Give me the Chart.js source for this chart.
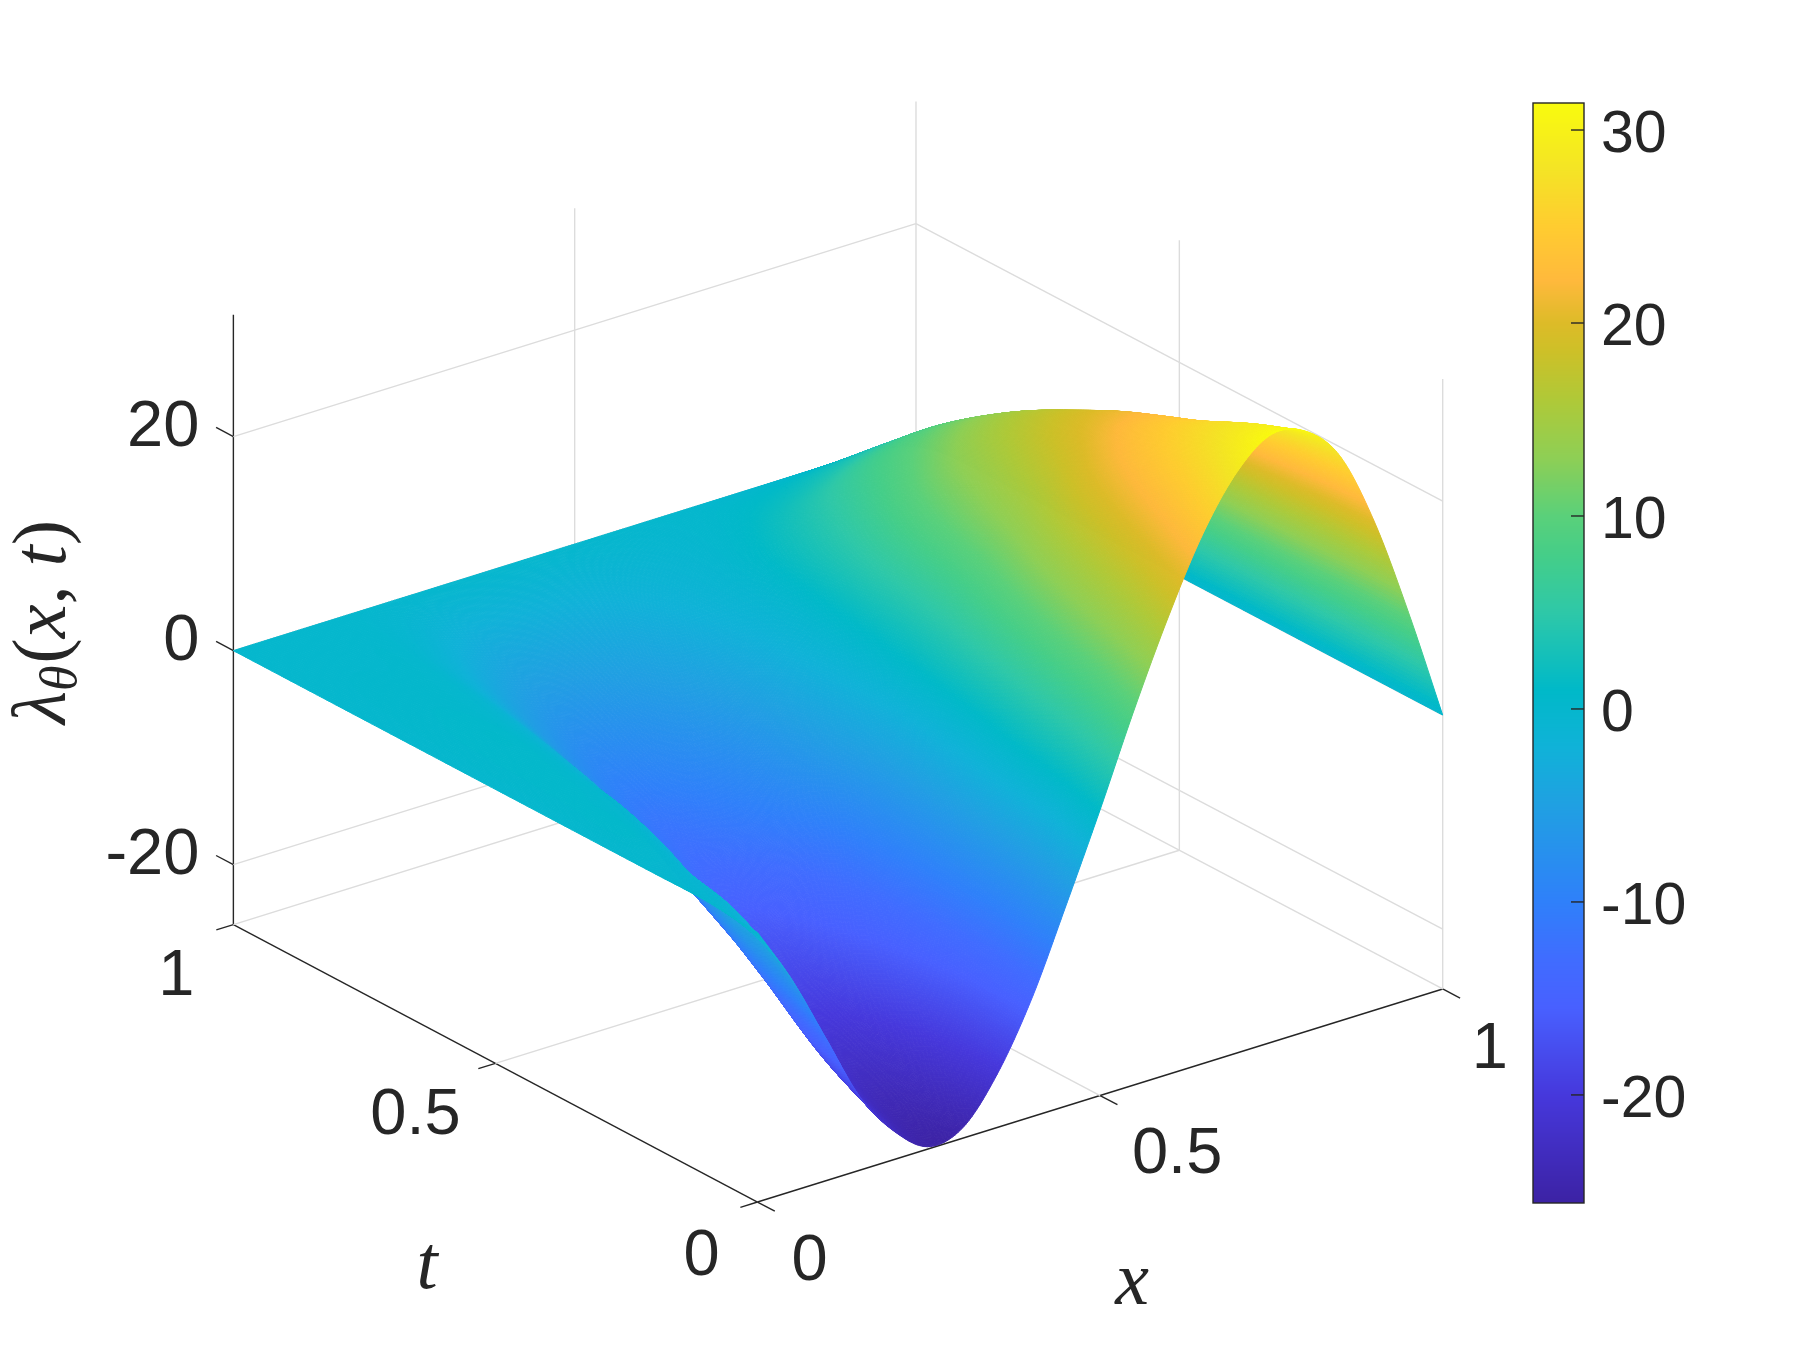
<!DOCTYPE html>
<html>
<head>
<meta charset="utf-8">
<title>lambda surface</title>
<script src="https://cdn.jsdelivr.net/npm/chart.js@4/dist/chart.umd.js"></script>
<style>
  body { margin: 0; background: #fff; }
  canvas { display: block; }
</style>
</head>
<body>
<canvas id="surface-chart" width="1799" height="1353"></canvas>
<script>
/* surface of lambda_theta(x, t) */
const xGrid = [0, 0.05, 0.1, 0.15, 0.2, 0.25, 0.3, 0.35, 0.4, 0.45, 0.5, 0.55, 0.6, 0.65, 0.7, 0.75, 0.8, 0.85, 0.9, 0.95, 1];
const tGrid = [0, 0.1, 0.2, 0.3, 0.4, 0.5, 0.6, 0.7, 0.8, 0.9, 1];

const zAtT00 = [-0.4, -5.8, -12.3, -18.8, -23, -25.4, -24.6, -20.6, -14.6, -6.9, 1.1, 9.5, 17.2, 23.9, 28.7, 31.2, 30.5, 27.2, 20.1, 10.6, 0];
const zAtT01 = [0, -2.3, -8.9, -15.8, -20.5, -23.5, -22.7, -19.6, -14.9, -8.8, -2, 5.7, 13.4, 20, 24.9, 28, 28.6, 25.8, 19.5, 10.5, 0];
const zAtT02 = [0, -0.9, -5.7, -11.8, -16.8, -20.8, -20.6, -18, -14.1, -9.2, -3.5, 3, 10.3, 16.7, 21.7, 25, 26.2, 24.1, 18.5, 10.1, 0];
const zAtT03 = [0, 0.3, -2.5, -8.2, -13.2, -17.6, -18.4, -16.4, -13.2, -9.2, -4.5, 0.5, 7.2, 13.4, 18.5, 21.9, 23.6, 22.7, 17.8, 9.8, 0];
const zAtT04 = [0, 0.4, -0.6, -5.2, -10.2, -14.3, -16.2, -14.6, -12, -8.8, -5, -1, 4.4, 10, 14.8, 18.5, 20.7, 20.9, 17.1, 9.6, 0];
const zAtT05 = [0, 0.4, 0, -2.8, -7.2, -11, -13, -11.8, -9.9, -7.5, -4.6, -1.6, 2.3, 7.5, 12.1, 15.6, 17.9, 18.5, 15.6, 8.9, 0];
const zAtT06 = [0, 0.4, 0.4, -1.5, -5, -8.8, -11.2, -10.2, -8.6, -6.7, -4.3, -1.8, 1.1, 5.6, 9.6, 12.8, 15, 15.8, 14, 8.1, 0];
const zAtT07 = [0, 0.3, 0.3, -0.6, -3.4, -6.6, -8.7, -8.2, -7, -5.5, -3.7, -1.8, 0.2, 3.6, 6.8, 9.4, 11.5, 12.5, 11.5, 6.9, 0];
const zAtT08 = [0, 0.2, 0.2, -0.1, -2, -4.3, -5.9, -5.9, -5.1, -4.1, -2.8, -1.4, -0.2, 1.9, 4.1, 6.2, 7.8, 8.7, 8.3, 5.2, 0];
const zAtT09 = [0, 0.1, 0.1, 0.1, -0.7, -2, -3, -3, -2.7, -2.3, -1.6, -1, -0.4, 0.4, 1.5, 2.4, 3.4, 4.2, 4.4, 3, 0];
const zAtT10 = [0, 0, 0, 0, 0, 0, 0, 0, 0, 0, 0, 0, 0, 0, 0, 0, 0, 0, 0, 0, 0];
const zRows = [zAtT00, zAtT01, zAtT02, zAtT03, zAtT04, zAtT05, zAtT06, zAtT07, zAtT08, zAtT09, zAtT10];

const xTicks = [0, 0.5, 1];
const xTickLabels = ['0', '0.5', '1'];
const tTicks = [0, 0.5, 1];
const tTickLabels = ['0', '0.5', '1'];
const zTicks = [-20, 0, 20];
const zTickLabels = ['-20', '0', '20'];
const colorbarTicks = [-20, -10, 0, 10, 20, 30];

const zMin = -25.6;
const zMax = 31.4;

// colormap
const cmapValues = [-25.6, -20, -15.5, -13, -10, -5, -2, 1, 5, 8, 10, 13, 16, 18.5, 20, 22.2, 25, 28, 31.4];
const cmapColors = ['#3c22a4', '#4638dc', '#4860ff', '#406cff', '#2f80fa', '#20a0e2', '#10b2d8', '#00b9c8', '#2ec8a8', '#45ce88', '#5ad07a', '#8ecf55', '#afc938', '#cdc028', '#ddbb28', '#ffb93c', '#ffcc30', '#f4e425', '#f9fb0e'];

// view of the box: how far x and t shift the two hidden scales
const hPerT = -0.7649;
const hPerXT = -0.0038; // the back corner sits a touch left of a true parallelogram
const vPerX = 19.91;
const vPerT = 25.93;
const toH = (x, t) => x + hPerT * t + hPerXT * x * t;
const toV = (x, t, z) => z + vPerX * x + vPerT * t;
const viewPoint = (x, t, z) => ({ x: toH(x, t), y: toV(x, t, z) });

const INK = '#262626';
const GRID = '#dcdcdc';
const TICK_FONT = '65px "Liberation Sans"';
const SUB = 22; // fine cells per data cell when shading

function hexToRgb(hex) {
    return [1, 3, 5].map(i => parseInt(hex.substr(i, 2), 16));
}
const cmapRgb = cmapColors.map(hexToRgb);

function colorFor(z) {
    if (z <= cmapValues[0]) return `rgb(${cmapRgb[0].join(',')})`;
    for (let i = 1; i < cmapValues.length; i++) {
        if (z <= cmapValues[i]) {
            const f = (z - cmapValues[i - 1]) / (cmapValues[i] - cmapValues[i - 1]);
            const c = cmapRgb[i - 1].map((v, k) => Math.round(v + (cmapRgb[i][k] - v) * f));
            return `rgb(${c.join(',')})`;
        }
    }
    return `rgb(${cmapRgb[cmapRgb.length - 1].join(',')})`;
}

function segment(a, b, color, width) {
    return {
        type: 'scatter', showLine: true, data: [a, b], borderColor: color, borderWidth: width,
        pointRadius: 0, clip: false, xAxisID: 'h', yAxisID: 'v'
    };
}

function boxDatasets() {
    const out = [];
    const grid = (a, b) => out.push(segment(a, b, GRID, 1.4));
    const dark = (a, b) => out.push(segment(a, b, INK, 1.4));

    // floor
    grid(viewPoint(0, 0.5, zMin), viewPoint(1, 0.5, zMin));
    grid(viewPoint(0.5, 0, zMin), viewPoint(0.5, 1, zMin));
    grid(viewPoint(0, 1, zMin), viewPoint(1, 1, zMin));
    grid(viewPoint(1, 0, zMin), viewPoint(1, 1, zMin));
    // back walls
    zTicks.forEach(z => {
        grid(viewPoint(0, 1, z), viewPoint(1, 1, z));
        grid(viewPoint(1, 1, z), viewPoint(1, 0, z));
    });
    grid(viewPoint(0.5, 1, zMin), viewPoint(0.5, 1, zMax));
    grid(viewPoint(1, 1, zMin), viewPoint(1, 1, zMax));
    grid(viewPoint(1, 0.5, zMin), viewPoint(1, 0.5, zMax));
    grid(viewPoint(1, 0, zMin), viewPoint(1, 0, zMax));
    // axes and their ticks
    dark(viewPoint(0, 1, zMin), viewPoint(0, 1, zMax));
    dark(viewPoint(0, 0, zMin), viewPoint(0, 1, zMin));
    dark(viewPoint(0, 0, zMin), viewPoint(1, 0, zMin));
    zTicks.forEach(z => dark(viewPoint(0, 1, z), viewPoint(0, 1.033, z)));
    tTicks.forEach(t => dark(viewPoint(0, t, zMin), viewPoint(-0.025, t, zMin)));
    xTicks.forEach(x => dark(viewPoint(x, 0, zMin), viewPoint(x, -0.033, zMin)));
    return out;
}

// Catmull-Rom refinement of one line of values, only for smooth shading between data cells
function refine(line, n) {
    const out = [];
    const last = line.length - 1;
    for (let i = 0; i < last; i++) {
        const p0 = i > 0 ? line[i - 1] : 2 * line[0] - line[1];
        const p1 = line[i];
        const p2 = line[i + 1];
        const p3 = i + 2 <= last ? line[i + 2] : 2 * line[last] - line[last - 1];
        for (let k = 0; k < n; k++) {
            const s = k / n;
            out.push(0.5 * (2 * p1 + (p2 - p0) * s + (2 * p0 - 5 * p1 + 4 * p2 - p3) * s * s + (3 * p1 - p0 - 3 * p2 + p3) * s * s * s));
        }
    }
    out.push(line[last]);
    return out;
}

function refineGrid(rows, n) {
    const along = rows.map(r => refine(r, n));
    const cols = along[0].map((_, i) => refine(along.map(r => r[i]), n));
    return cols; // cols[i][j]
}

const surfacePlugin = {
    id: 'surface',
    afterDatasetsDraw(chart) {
        const ctx = chart.ctx;
        const meta = chart.getDatasetMeta(0).data;
        const nx = xGrid.length;
        const pxRows = zRows.map((r, j) => r.map((_, i) => meta[j * nx + i].x));
        const pyRows = zRows.map((r, j) => r.map((_, i) => meta[j * nx + i].y));
        const px = refineGrid(pxRows, SUB);
        const py = refineGrid(pyRows, SUB);
        const pz = refineGrid(zRows, SUB);

        // far cells first, the height field then covers itself correctly
        const cells = [];
        for (let i = 0; i < px.length - 1; i++) {
            for (let j = 0; j < px[0].length - 1; j++) {
                cells.push([i, j, vPerX * i / ((nx - 1) * SUB) + vPerT * j / ((tGrid.length - 1) * SUB)]);
            }
        }
        cells.sort((a, b) => b[2] - a[2]);

        ctx.save();
        ctx.lineWidth = 1;
        ctx.lineJoin = 'round';
        cells.forEach(([i, j]) => {
            const c = colorFor((pz[i][j] + pz[i + 1][j] + pz[i][j + 1] + pz[i + 1][j + 1]) / 4);
            ctx.fillStyle = c;
            ctx.strokeStyle = c;
            ctx.beginPath();
            ctx.moveTo(px[i][j], py[i][j]);
            ctx.lineTo(px[i + 1][j], py[i + 1][j]);
            ctx.lineTo(px[i + 1][j + 1], py[i + 1][j + 1]);
            ctx.lineTo(px[i][j + 1], py[i][j + 1]);
            ctx.closePath();
            ctx.fill();
            ctx.stroke();
        });
        ctx.restore();
    }
};

const colorbarPlugin = {
    id: 'colorbar',
    afterDraw(chart) {
        const ctx = chart.ctx;
        const cb = chart.scales.cb;
        const barWidth = 51;
        const left = cb.left - barWidth;
        ctx.save();
        for (let y = Math.floor(cb.top); y < cb.bottom; y++) {
            ctx.fillStyle = colorFor(cb.getValueForPixel(y + 0.5));
            ctx.fillRect(left, y, barWidth, 1);
        }
        ctx.strokeStyle = INK;
        ctx.lineWidth = 1.4;
        ctx.strokeRect(left, cb.top, barWidth, cb.bottom - cb.top);
        colorbarTicks.forEach(v => {
            const y = cb.getPixelForValue(v);
            ctx.beginPath();
            ctx.moveTo(cb.left, y);
            ctx.lineTo(cb.left - 13, y);
            ctx.stroke();
        });
        ctx.restore();
    }
};

function drawRuns(ctx, runs, x, y) {
    // mixed-font text, centred on x
    let width = 0;
    runs.forEach(r => { ctx.font = r.font; width += ctx.measureText(r.text).width + (r.gap || 0); });
    let cx = x - width / 2;
    runs.forEach(r => {
        ctx.font = r.font;
        ctx.fillText(r.text, cx, y + (r.dy || 0));
        cx += ctx.measureText(r.text).width + (r.gap || 0);
    });
}

const labelsPlugin = {
    id: 'boxLabels',
    afterDraw(chart) {
        const ctx = chart.ctx;
        const h = chart.scales.h;
        const v = chart.scales.v;
        const at = (x, t, z) => [h.getPixelForValue(toH(x, t)), v.getPixelForValue(toV(x, t, z))];

        ctx.save();
        ctx.fillStyle = INK;
        ctx.font = TICK_FONT;
        ctx.textBaseline = 'middle';

        ctx.textAlign = 'right';
        zTicks.forEach((z, i) => {
            const [px, py] = at(0, 1, z);
            ctx.fillText(zTickLabels[i], px - 34, py - 9);
        });
        ctx.textAlign = 'center';
        const tOffsets = [[-56, 55], [-80, 53], [-57, 53]];
        tTicks.forEach((t, i) => {
            const [px, py] = at(0, t, zMin);
            ctx.fillText(tTickLabels[i], px + tOffsets[i][0], py + tOffsets[i][1]);
        });
        const xOffsets = [[52, 60], [77, 60], [47, 61]];
        xTicks.forEach((x, i) => {
            const [px, py] = at(x, 0, zMin);
            ctx.fillText(xTickLabels[i], px + xOffsets[i][0], py + xOffsets[i][1]);
        });

        // axis titles
        const ITALIC = 'italic 76px "Liberation Serif"';
        const ROMAN = '76px "Liberation Serif"';
        const SMALL = 'italic 52px "Liberation Serif"';
        ctx.textBaseline = 'alphabetic';
        ctx.textAlign = 'left';
        drawRuns(ctx, [{ text: 't', font: ITALIC }], 427, 1288);
        drawRuns(ctx, [{ text: 'x', font: ITALIC }], 1132, 1304);
        ctx.translate(65, 622);
        ctx.rotate(-Math.PI / 2);
        drawRuns(ctx, [
            { text: 'λ', font: ITALIC },
            { text: 'θ', font: SMALL, dy: 11, gap: 2 },
            { text: '(', font: ROMAN },
            { text: 'x', font: ITALIC },
            { text: ', ', font: ROMAN },
            { text: 't', font: ITALIC },
            { text: ')', font: ROMAN }
        ], 0, 0);
        ctx.restore();
    }
};

const surfacePoints = [];
tGrid.forEach((t, j) => xGrid.forEach((x, i) => surfacePoints.push(viewPoint(x, t, zRows[j][i]))));

new Chart(document.getElementById('surface-chart'), {
    type: 'scatter',
    data: {
        datasets: [
            { label: 'lambda', data: surfacePoints, pointRadius: 0, showLine: false, clip: false, xAxisID: 'h', yAxisID: 'v' },
            ...boxDatasets()
        ]
    },
    options: {
        responsive: false,
        animation: false,
        devicePixelRatio: 1,
        layout: { padding: { top: 103, bottom: 150, left: 0, right: 0 } },
        plugins: { legend: { display: false }, tooltip: { enabled: false } },
        scales: {
            // hidden view scales, calibrated so the box lands where it does in the figure
            h: { axis: 'x', type: 'linear', position: 'bottom', display: false, min: -1.1055, max: 1.2062 },
            v: { axis: 'y', type: 'linear', position: 'left', display: false, min: -25.69, max: 77.11 },
            cb: {
                axis: 'y',
                type: 'linear',
                position: 'right',
                min: zMin,
                max: zMax,
                afterBuildTicks: scale => { scale.ticks = colorbarTicks.map(value => ({ value })); },
                afterFit: scale => { scale.width = 215; },
                grid: { display: false, drawTicks: false },
                border: { display: false },
                ticks: {
                    color: INK,
                    padding: 17,
                    labelOffset: 6,
                    autoSkip: false,
                    font: { family: 'Liberation Sans', size: 59 }
                }
            }
        }
    },
    plugins: [surfacePlugin, colorbarPlugin, labelsPlugin]
});
</script>
</body>
</html>
